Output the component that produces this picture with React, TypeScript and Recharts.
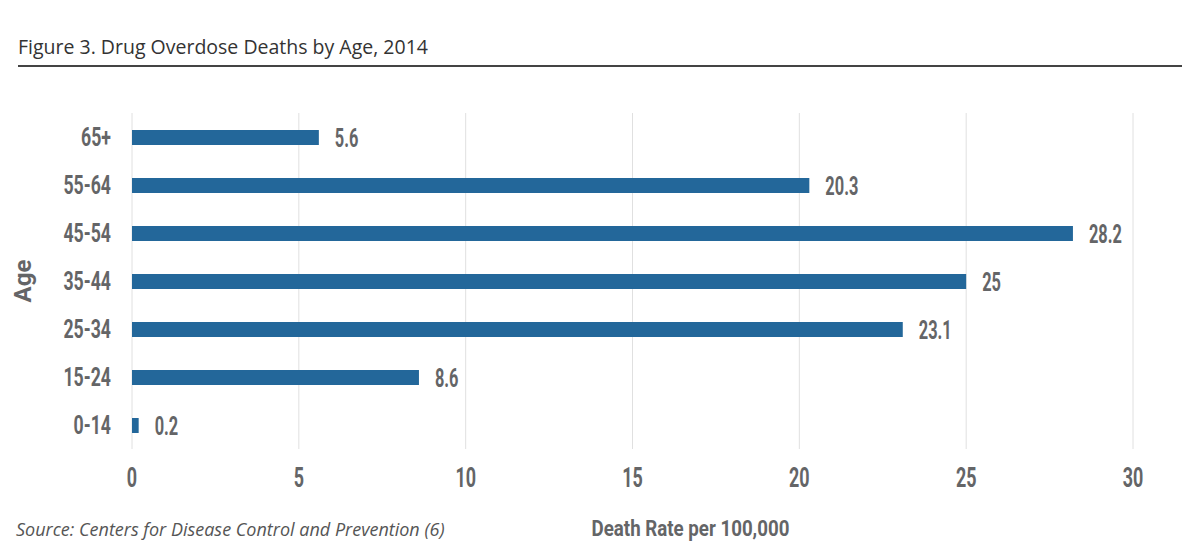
import { Bar, BarChart, CartesianGrid, Label, LabelList, XAxis, YAxis } from "recharts";

const ageGroups = ["65+", "55-64", "45-54", "35-44", "25-34", "15-24", "0-14"];
const deathRates = [5.6, 20.3, 28.2, 25, 23.1, 8.6, 0.2];
const rateTicks = [0, 5, 10, 15, 20, 25, 30];

const rows = ageGroups.map((age, i) => ({ age, rate: deathRates[i] }));

// no condensed face installed, so squeeze Roboto bold horizontally
const font = "Roboto, 'Liberation Sans', sans-serif";
const gray = "#646567";

const squeeze = (x: number, y: number, k: number) =>
  `translate(${x},${y}) scale(${k},1) translate(${-x},${-y})`;

function RateTick(props: any) {
  const { x, y, payload } = props;
  return (
    <text
      x={x}
      y={y}
      dy="0.71em"
      textAnchor="middle"
      fontFamily={font}
      fontWeight={700}
      fontSize={28}
      fill={gray}
      transform={squeeze(x, y, 0.64)}
    >
      {payload.value}
    </text>
  );
}

function AgeTick(props: any) {
  const { x, y, payload } = props;
  return (
    <text
      x={x}
      y={y}
      dy="0.355em"
      textAnchor="end"
      fontFamily={font}
      fontWeight={700}
      fontSize={26}
      fill={gray}
      transform={squeeze(x, y, 0.68)}
    >
      {payload.value}
    </text>
  );
}

function ValueLabel(props: any) {
  const { x, y, width, height, value } = props;
  const tx = x + width + 16;
  const ty = y + height / 2;
  return (
    <text
      x={tx}
      y={ty}
      dy="0.355em"
      textAnchor="start"
      fontFamily={font}
      fontWeight={700}
      fontSize={26}
      fill={gray}
      transform={squeeze(tx, ty, 0.63)}
    >
      {value}
    </text>
  );
}

function XTitle(props: any) {
  const vb = props.viewBox;
  const tx = vb.x + vb.width / 2 + 58;
  const ty = vb.y + 87;
  return (
    <text
      x={tx}
      y={ty}
      textAnchor="middle"
      fontFamily={font}
      fontWeight={700}
      fontSize={22}
      fill={gray}
      transform={squeeze(tx, ty, 0.85)}
    >
      Death Rate per 100,000
    </text>
  );
}

function YTitle(props: any) {
  const vb = props.viewBox;
  const tx = vb.x + 31;
  const ty = vb.y + vb.height / 2;
  return (
    <text
      x={tx}
      y={ty}
      textAnchor="middle"
      fontFamily={font}
      fontWeight={700}
      fontSize={24}
      fill={gray}
      transform={`rotate(-90, ${tx}, ${ty})`}
    >
      Age
    </text>
  );
}

export default function App() {
  return (
    <div style={{ position: "relative", width: 1200, height: 554, margin: -8, background: "#fff" }}>
      <div
        style={{
          position: "absolute",
          left: 18,
          top: 33,
          fontFamily: "'Open Sans', sans-serif",
          fontSize: 19.5,
          color: "#333",
          whiteSpace: "nowrap",
        }}
      >
        Figure 3. Drug Overdose Deaths by Age, 2014
      </div>
      <div style={{ position: "absolute", left: 18, top: 65, width: 1164, height: 1.5, background: "#444" }} />
      <div
        style={{
          position: "absolute",
          left: 16,
          top: 517,
          fontFamily: "'Open Sans', sans-serif",
          fontStyle: "italic",
          fontSize: 18,
          color: "#555",
          whiteSpace: "nowrap",
        }}
      >
        Source: Centers for Disease Control and Prevention (6)
      </div>
      <div style={{ position: "absolute", left: 0, top: 0 }}>
        <BarChart
          width={1200}
          height={554}
          data={rows}
          layout="vertical"
          margin={{ top: 113, right: 67, left: 0, bottom: 0 }}
        >
          <CartesianGrid horizontal={false} stroke="#e0e0e0" />
          <XAxis
            type="number"
            dataKey="rate"
            domain={[0, 30]}
            ticks={rateTicks}
            axisLine={false}
            tickLine={false}
            tickMargin={12}
            height={105}
            tick={<RateTick />}
          >
            <Label content={<XTitle />} />
          </XAxis>
          <YAxis
            type="category"
            dataKey="age"
            width={132}
            axisLine={false}
            tickLine={false}
            tickMargin={15}
            tick={<AgeTick />}
          >
            <Label content={<YTitle />} />
          </YAxis>
          <Bar dataKey="rate" fill="#23679a" barSize={15} isAnimationActive={false}>
            <LabelList dataKey="rate" content={<ValueLabel />} />
          </Bar>
        </BarChart>
      </div>
    </div>
  );
}
